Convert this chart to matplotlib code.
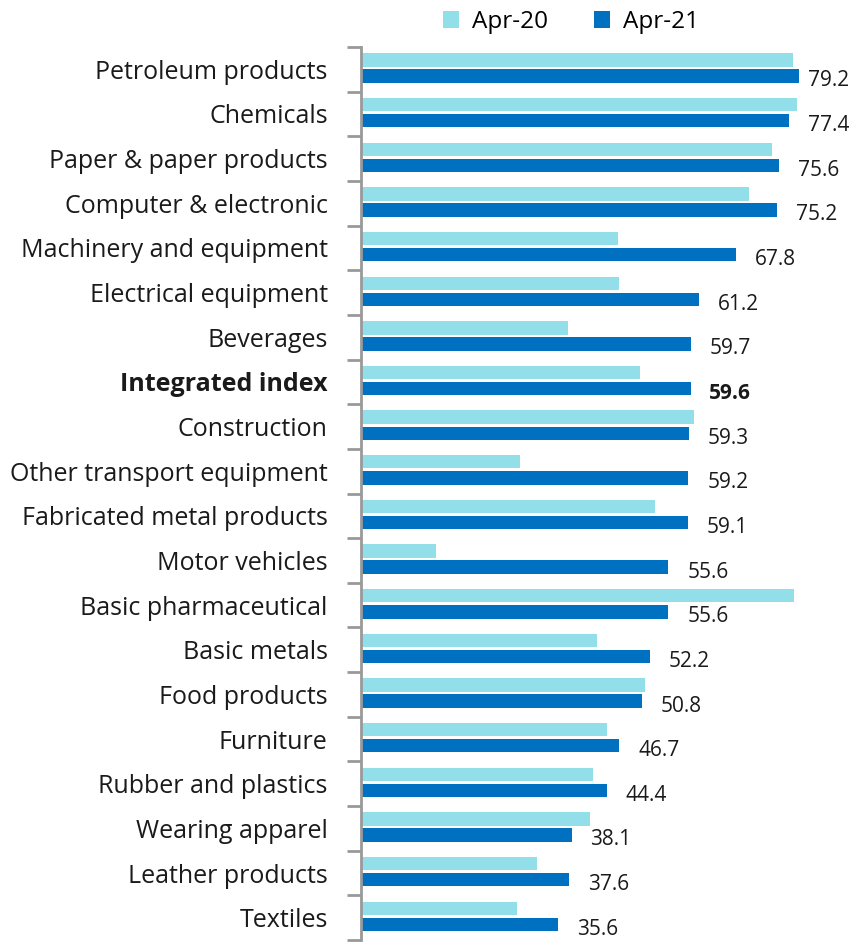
import matplotlib
matplotlib.use("Agg")
import matplotlib.pyplot as plt
import numpy as np

categories = ["Petroleum products", "Chemicals", "Paper & paper products",
              "Computer & electronic", "Machinery and equipment", "Electrical equipment",
              "Beverages", "Integrated index", "Construction", "Other transport equipment",
              "Fabricated metal products", "Motor vehicles", "Basic pharmaceutical",
              "Basic metals", "Food products", "Furniture", "Rubber and plastics",
              "Wearing apparel", "Leather products", "Textiles"]
apr20 = [78.2, 78.9, 74.4, 70.2, 46.4, 46.6, 37.4, 50.5, 60.3, 28.7,
         53.1, 13.5, 78.3, 42.6, 51.4, 44.4, 41.9, 41.5, 31.9, 28.3]
apr21 = [79.2, 77.4, 75.6, 75.2, 67.8, 61.2, 59.7, 59.6, 59.3, 59.2,
         59.1, 55.6, 55.6, 52.2, 50.8, 46.7, 44.4, 38.1, 37.6, 35.6]
series_names = ["Apr-20", "Apr-21"]
bold_category = "Integrated index"

c20 = "#93DFE9"
c21 = "#0070C0"
FONT = "Open Sans"
plt.rcParams['font.family'] = [FONT, 'DejaVu Sans']

fig = plt.figure(figsize=(8.68, 9.42), dpi=100)
ax = fig.add_axes([361/868, 2/942, 507/868, (940-47)/942])

n = len(categories)
y = np.arange(n)
h = 0.30
b1 = ax.barh(y - 0.21, apr20, height=h, color=c20, label=series_names[0])
b2 = ax.barh(y + 0.15, apr21, height=h, color=c21, label=series_names[1])

ax.set_xlim(0, 507/5.53)
ax.set_ylim(n - 0.5, -0.5)

for i, v in enumerate(apr21):
    xv = min(v + 3.4, 80.8)
    bold = categories[i] == bold_category
    ax.text(xv, i + 0.26, f"{v:.1f}", va="center", ha="left", fontsize=15,
            color="#1a1a1a", fontweight="bold" if bold else "normal")

ax.set_yticks(y)
ax.set_yticklabels(categories, fontsize=18, color="#1a1a1a")
for lbl in ax.get_yticklabels():
    if lbl.get_text() == bold_category:
        lbl.set_fontweight("bold")
ax.tick_params(axis="y", which="major", length=0, pad=24)
ax.set_yticks(np.arange(n + 1) - 0.5, minor=True)
ax.tick_params(axis="y", which="minor", length=10, width=2, color="#999999", direction="out")
ax.set_xticks([])

for s in ["top", "right", "bottom"]:
    ax.spines[s].set_visible(False)
ax.spines["left"].set_color("#999999")
ax.spines["left"].set_linewidth(2)

leg = fig.legend(handles=[b1, b2], labels=series_names, loc="center",
                 bbox_to_anchor=(571/868, 1 - 22/942), ncol=2, frameon=False,
                 fontsize=17.5, handlelength=0.65, handleheight=0.65, columnspacing=1.9,
                 handletextpad=0.55)

fig.savefig("out.png", dpi=100)
